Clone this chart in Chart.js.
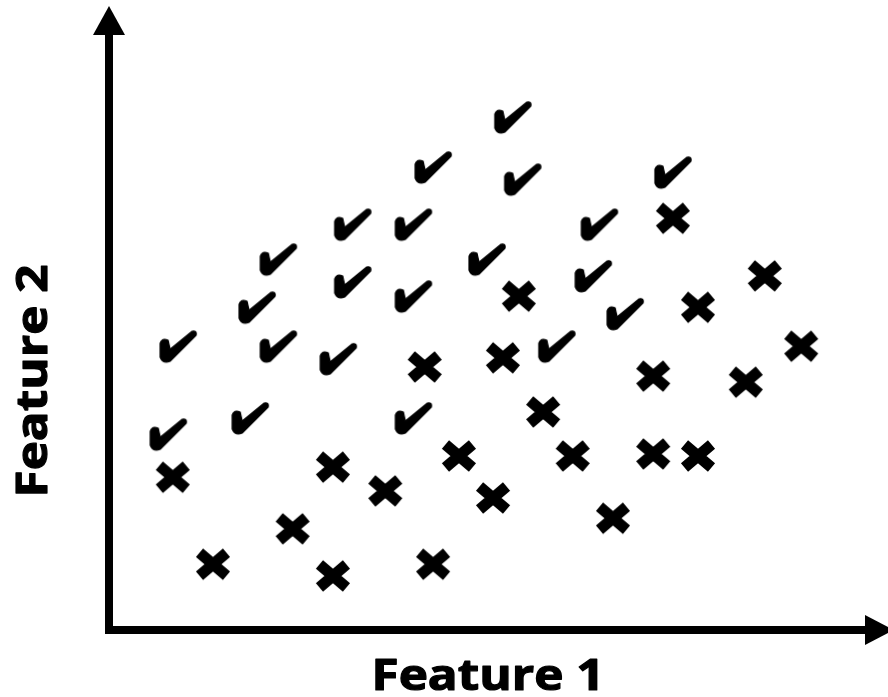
<!DOCTYPE html>
<html>
<head>
<meta charset="utf-8">
<script src="https://cdn.jsdelivr.net/npm/chart.js@4.4.0/dist/chart.umd.min.js"></script>
<style>
  html, body { margin: 0; padding: 0; background: #fff; }
  #wrap { width: 888px; height: 697px; position: relative; }
</style>
</head>
<body>
<div id="wrap"><canvas id="scatter"></canvas></div>
<script>
  // axis titles
  const xTitle = "Feature 1";
  const yTitle = "Feature 2";

  // class "yes" (check marks)
  const checkX = [5.32, 4.27, 5.45, 7.43, 3.21, 4.01, 6.46, 2.23, 4.98, 3.21, 4.01,
                  6.38, 1.95, 0.91, 2.23, 3.02, 6.80, 5.90, 0.78, 1.86, 4.01];
  const checkY = [10.14, 9.15, 8.91, 9.05, 8.02, 8.02, 8.02, 7.33, 7.33, 6.88, 6.60,
                  7.00, 6.38, 5.61, 5.61, 5.36, 6.25, 5.61, 3.87, 4.19, 4.19];

  // class "no" (crosses)
  const crossX = [7.43, 8.64, 5.40, 7.76, 9.12, 4.16, 5.19, 7.17, 8.39, 5.72, 0.84, 4.61,
                  6.11, 7.17, 7.76, 2.95, 3.64, 5.06, 6.64, 2.42, 1.37, 2.95, 4.27];
  const crossY = [8.14, 7.00, 6.60, 6.38, 5.61, 5.20, 5.38, 5.02, 4.90, 4.31, 3.02, 3.44,
                  3.44, 3.48, 3.44, 3.22, 2.75, 2.61, 2.21, 2.00, 1.30, 1.07, 1.30];

  function toPoints(xs, ys) {
    return xs.map((x, i) => ({ x: x, y: ys[i] }));
  }

  // check mark glyph
  function makeCheck() {
    const c = document.createElement("canvas");
    c.width = 44; c.height = 36;
    const ctx = c.getContext("2d");
    ctx.translate(2, 2);
    ctx.fillStyle = "#000";
    ctx.strokeStyle = "#000";
    ctx.lineWidth = 1.2;
    ctx.lineJoin = "round";
    ctx.beginPath();
    ctx.moveTo(2, 13);
    ctx.quadraticCurveTo(4, 7, 10, 10);
    ctx.lineTo(12, 19);
    ctx.lineTo(34, 1);
    ctx.quadraticCurveTo(39, 0, 38, 5);
    ctx.lineTo(12, 31);
    ctx.quadraticCurveTo(5, 34, 2, 27);
    ctx.closePath();
    ctx.fill();
    ctx.stroke();
    return c;
  }

  // heavy cross glyph
  function makeCross() {
    const c = document.createElement("canvas");
    c.width = 40; c.height = 36;
    const ctx = c.getContext("2d");
    ctx.strokeStyle = "#000";
    ctx.lineWidth = 11;
    ctx.lineCap = "butt";
    ctx.beginPath();
    ctx.moveTo(20 - 13.5, 18 - 11.5);
    ctx.lineTo(20 + 13.5, 18 + 11.5);
    ctx.moveTo(20 + 13.5, 18 - 11.5);
    ctx.lineTo(20 - 13.5, 18 + 11.5);
    ctx.stroke();
    return c;
  }

  // arrows for the axes + titles
  const axesPlugin = {
    id: "arrowAxes",
    afterDraw(chart) {
      const ctx = chart.ctx;
      const x0 = chart.scales.x.getPixelForValue(0);
      const y0 = chart.scales.y.getPixelForValue(0);
      ctx.save();
      ctx.fillStyle = "#000";
      ctx.strokeStyle = "#000";
      ctx.lineWidth = 8;
      ctx.lineCap = "butt";
      // vertical axis
      ctx.beginPath();
      ctx.moveTo(x0, y0 + 4);
      ctx.lineTo(x0, 34);
      ctx.stroke();
      ctx.beginPath();
      ctx.moveTo(x0 - 16, 35);
      ctx.lineTo(x0, 6);
      ctx.lineTo(x0 + 16, 35);
      ctx.closePath();
      ctx.fill();
      // horizontal axis
      ctx.beginPath();
      ctx.moveTo(x0 - 4, y0);
      ctx.lineTo(866, y0);
      ctx.stroke();
      ctx.beginPath();
      ctx.moveTo(865, y0 - 15);
      ctx.lineTo(894, y0);
      ctx.lineTo(865, y0 + 15);
      ctx.closePath();
      ctx.fill();
      // titles (wide, heavy lettering)
      ctx.font = 'bold 43px "Open Sans"';
      ctx.textAlign = "center";
      ctx.textBaseline = "alphabetic";
      ctx.lineWidth = 1.2;
      ctx.lineJoin = "round";
      ctx.save();
      ctx.translate(488, 690);
      ctx.scale(1.15, 1);
      ctx.fillText(xTitle, 0, 0);
      ctx.strokeText(xTitle, 0, 0);
      ctx.restore();
      ctx.translate(47, 381);
      ctx.rotate(-Math.PI / 2);
      ctx.scale(1.15, 1);
      ctx.fillText(yTitle, 0, 0);
      ctx.strokeText(yTitle, 0, 0);
      ctx.restore();
    }
  };

  new Chart("scatter", {
    type: "scatter",
    data: {
      datasets: [{
        label: "check",
        data: toPoints(checkX, checkY),
        pointStyle: makeCheck(),
        clip: false
      }, {
        label: "cross",
        data: toPoints(crossX, crossY),
        pointStyle: makeCross(),
        clip: false
      }]
    },
    options: {
      responsive: true,
      maintainAspectRatio: false,
      animation: false,
      layout: {
        padding: { left: 109, right: 20, top: 23, bottom: 67 }
      },
      scales: {
        x: { type: "linear", min: 0, max: 10, display: false },
        y: { type: "linear", min: 0, max: 12, display: false }
      },
      plugins: {
        legend: { display: false },
        tooltip: { enabled: false }
      }
    },
    plugins: [axesPlugin]
  });
</script>
</body>
</html>
